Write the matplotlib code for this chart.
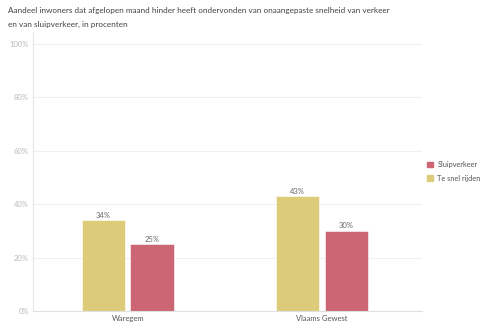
import numpy as np
import matplotlib.pyplot as plt
from matplotlib.patches import Patch

# data
categories = ['Waregem', 'Vlaams Gewest']
te_snel = [34, 43]
sluipverkeer = [25, 30]
series_names = ['Te snel rijden', 'Sluipverkeer']
yticks = [0, 20, 40, 60, 80, 100]

yellow = '#dccb78'
red = '#cc6674'

plt.rcParams['font.family'] = ['Lato', 'DejaVu Sans']

fig = plt.figure(figsize=(4.82, 3.25), dpi=100)
ax = fig.add_axes([33/482, 1 - 311/325, 389/482, 279/325])

x = np.arange(len(categories))
w = 0.224
gap = 0.013
b1 = ax.bar(x - w/2 - gap, te_snel, w, color=yellow, edgecolor='white', linewidth=0.4)
b2 = ax.bar(x + w/2 + gap, sluipverkeer, w, color=red, edgecolor='white', linewidth=0.4)

for bars, vals in [(b1, te_snel), (b2, sluipverkeer)]:
    for r, v in zip(bars, vals):
        ax.text(r.get_x() + r.get_width()/2, v + 0.6, f'{v}%', ha='center', va='bottom',
                fontsize=5.5, color='#666666')

ax.set_xlim(-0.488, 1.515)
ax.set_ylim(0, 104.5)
ax.set_xticks(x)
ax.set_xticklabels(categories, fontsize=5.5, color='#555555')
ax.set_yticks(yticks)
ax.set_yticklabels([f'{t}%' for t in yticks], fontsize=5.5, color='#bbbbbb')
ax.tick_params(length=0, pad=3)
ax.yaxis.grid(True, color='#f0f0f0', linewidth=0.8)
ax.set_axisbelow(True)
for s in ['top', 'right']:
    ax.spines[s].set_visible(False)
ax.spines['left'].set_color('#e6e6e6')
ax.spines['bottom'].set_color('#e0e0e0')
ax.spines['left'].set_linewidth(0.8)
ax.spines['bottom'].set_linewidth(0.8)

handles = [Patch(color=red, label=series_names[1]), Patch(color=yellow, label=series_names[0])]
fig.legend(handles=handles, loc='upper left', bbox_to_anchor=(424/482, 1 - 158/325), frameon=False,
           fontsize=5.3, handlelength=0.8, handleheight=0.8, handletextpad=0.6,
           labelspacing=0.9, labelcolor='#555555', borderaxespad=0)

fig.text(8/482, 1 - 11/325, 'Aandeel inwoners dat afgelopen maand hinder heeft ondervonden van onaangepaste snelheid van verkeer',
         fontsize=5.9, color='#444444', va='center')
fig.text(8/482, 1 - 24/325, 'en van sluipverkeer, in procenten', fontsize=5.9, color='#444444', va='center')

fig.savefig('out.png', dpi=100)
